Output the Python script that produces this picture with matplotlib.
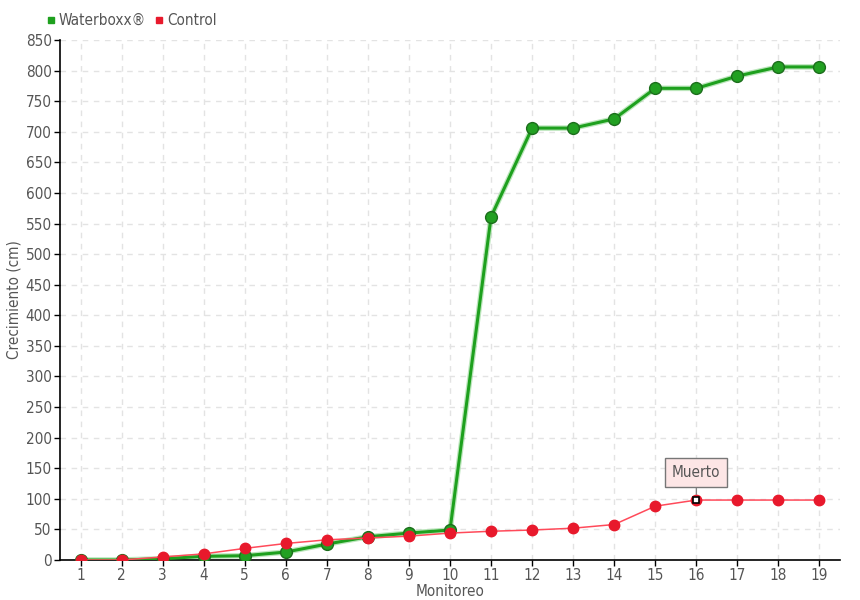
import matplotlib
matplotlib.use("Agg")
import matplotlib.pyplot as plt
from matplotlib.lines import Line2D

monitoreo = list(range(1, 20))
waterboxx = [0, 0, 2, 6, 7, 13, 26, 38, 44, 49, 561, 706, 706, 721, 771, 771, 791, 806, 806]
control = [0, 0, 5, 10, 19, 27, 33, 36, 39, 44, 47, 49, 52, 58, 88, 98, 98, 98, 98]
y_ticks = list(range(0, 851, 50))

plt.rcParams['font.family'] = ['DejaVu Sans']
plt.rcParams['font.stretch'] = 'condensed'
plt.rcParams['font.weight'] = 'light'
txt = '#555555'

fig = plt.figure(figsize=(8.6, 6.0), dpi=100)
ax = fig.add_axes([60/860, 40/600, 780/860, 520/600])

ax.plot(monitoreo, waterboxx, color='#8fd68f', lw=4, alpha=0.6, zorder=2)
ax.plot(monitoreo, waterboxx, color='#1ea01e', lw=2.2, marker='o', ms=8.5,
        mfc='#22a022', mec='#1c6e1c', mew=1.0, zorder=3)
ax.plot(monitoreo, control, color='#ff4a5a', lw=1.1, marker='o', ms=7.5,
        mfc='#e8192c', mec='#e8192c', zorder=4)
ax.plot([16], [control[15]], marker='s', ms=5, mfc='white', mec='black', mew=1.2, ls='none', zorder=5)

ax.annotate('Muerto', xy=(16, control[15]), xytext=(0, 20), textcoords='offset points',
            ha='center', va='center', fontsize=11, color=txt,
            bbox=dict(boxstyle='square,pad=0.45', fc='#fde6e6', ec='#777777', lw=1),
            arrowprops=dict(arrowstyle='-', color='#777777', lw=0.8, shrinkA=0, shrinkB=4),
            zorder=6)

ax.set_xlim(0.5, 19.5)
ax.set_ylim(0, 850)
ax.set_xticks(monitoreo)
ax.set_yticks(y_ticks)
ax.set_xticklabels([str(m) for m in monitoreo])
ax.tick_params(axis='both', colors='black', labelcolor=txt, labelsize=11, length=4, width=1, pad=2)

ax.grid(True, color='#e3e3e3', ls=(0, (4, 4)), lw=1)
ax.set_axisbelow(True)
for s in ['top', 'right']:
    ax.spines[s].set_visible(False)
ax.spines['left'].set_linewidth(1.2)
ax.spines['bottom'].set_linewidth(1.2)

ax.set_ylabel('Crecimiento (cm)', color=txt, fontsize=11)
ax.yaxis.set_label_coords(-38/780, 0.5)
ax.set_xlabel('Monitoreo', color=txt, fontsize=11)
ax.xaxis.set_label_coords(0.5, -24/520)

handles = [Line2D([], [], marker='s', ls='none', color='#1ea01e', ms=5),
           Line2D([], [], marker='s', ls='none', color='#e8192c', ms=5)]
fig.legend(handles, ['Waterboxx®', 'Control'], loc='upper left', bbox_to_anchor=(46/860, 1 - 13/600),
           ncol=2, frameon=False, handlelength=0.6, handletextpad=0.2, columnspacing=0.6,
           fontsize=11, labelcolor=txt, borderpad=0, borderaxespad=0)

fig.savefig('out.png', dpi=100)
